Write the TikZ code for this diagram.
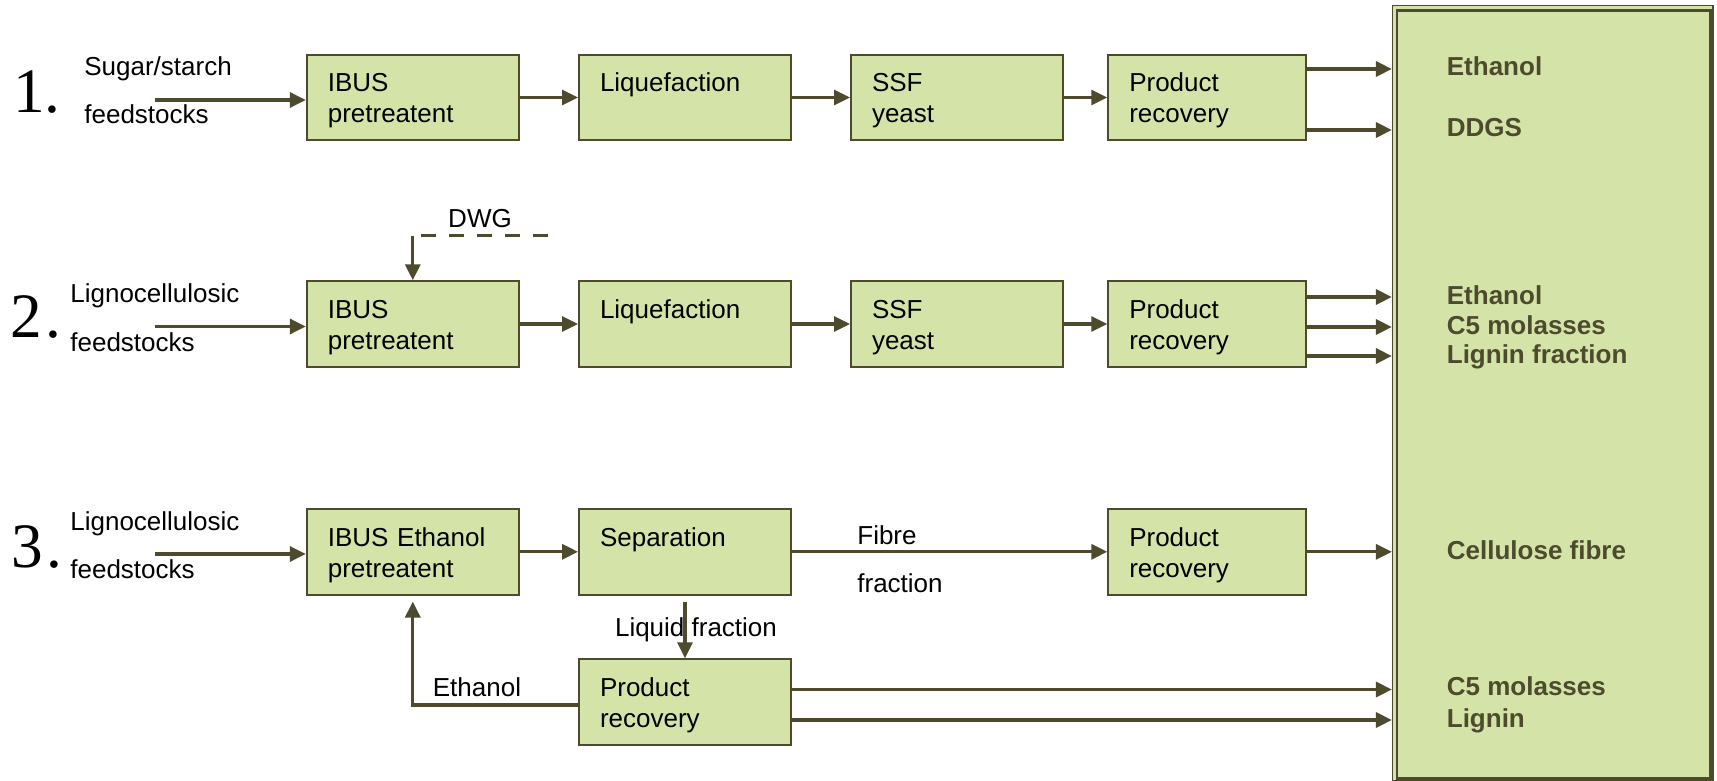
\documentclass[tikz,border=0pt]{standalone}
\usepackage{fontspec}
\setmainfont{Liberation Sans}
\newfontfamily\numfont{Liberation Serif}
\usetikzlibrary{arrows.meta,positioning,calc}
\definecolor{stagefill}{RGB}{212,228,168}
\definecolor{darkline}{RGB}{77,74,46}
\newcommand\boxfont{\fontsize{14.8}{17.6}\selectfont}

\begin{document}
\begin{tikzpicture}[
  font=\boxfont, >={Triangle[length=3.2mm,width=3mm]},
  stage/.style={draw=darkline, line width=1.1pt, fill=stagefill, minimum height=1.71cm,
    inner xsep=0.42cm, inner ysep=0pt, align=left, text width=3.4cm,
    execute at begin node=\rule{0pt}{14.4pt}},
  prbox/.style={stage, text width=3.11cm},
  outbox/.style={draw=darkline, line width=0.7pt, fill=stagefill, minimum width=6.41cm, minimum height=15.5cm},
  res/.style={anchor=west, inner sep=0pt, font=\boxfont\bfseries, text=darkline,
    text height=10.6pt, text depth=0pt},
  txt/.style={anchor=west, inner sep=0pt, text height=10.6pt, text depth=0pt},
  num/.style={anchor=base west, inner sep=0pt, font=\numfont\fontsize{36}{40}\selectfont},
  flow/.style={->, draw=darkline, line width=1.8pt},
]
\useasboundingbox (0,0) rectangle (34.34,-15.62);

% results column
\node[outbox] (big) at (31.055,-7.864) {};
\draw[darkline, line width=1.4pt] ([shift={(0.1,-0.11)}]big.north west) rectangle ([shift={(-0.06,0.06)}]big.south east);
\node[res] (o1a) at (28.93,-1.32) {Ethanol};
\node[res] (o1b) at (28.93,-2.54) {DDGS};
\node[res] (o2a) at (28.93,-5.90) {Ethanol};
\node[res] (o2b) at (28.93,-6.50) {C5 molasses};
\node[res] (o2c) at (28.93,-7.08) {Lignin fraction};
\node[res] (o3) at (28.93,-11.00) {Cellulose fibre};
\node[res] (o4a) at (28.93,-13.73) {C5 molasses};
\node[res] (o4b) at (28.93,-14.36) {Lignin};

% 1. sugar/starch
\node[num] (n1) at (0.26,-2.26) {1.};
\node[txt] (s1a) at (1.68,-1.32) {Sugar/starch};
\node[txt] (s1b) at (1.68,-2.28) {feedstocks};
\node[stage] (ib1) at (8.256,-1.95) {IBUS\\pretreatent};
\node[stage] (lq1) at (13.70,-1.95) {Liquefaction\\\phantom{y}};
\node[stage] (ssf1) at (19.14,-1.95) {SSF\\yeast};
\node[prbox] (pr1) at (24.14,-1.95) {Product\\recovery};
\coordinate (in1) at (3.1,-2.0);
\draw[flow] (in1) -- (in1 -| ib1.west);
\draw[flow] (ib1) -- (lq1);
\draw[flow] (lq1) -- (ssf1);
\draw[flow] (ssf1) -- (pr1);
\draw[flow] ([yshift=-0.6mm]pr1.east |- o1a) -- ([yshift=-0.6mm]big.west |- o1a);
\draw[flow] ([yshift=-0.6mm]pr1.east |- o1b) -- ([yshift=-0.6mm]big.west |- o1b);

% 2. lignocellulosic, DWG
\node[num] (n2) at (0.2,-6.74) {2\kern2pt.};
\node[txt] (s2a) at (1.40,-5.86) {Lignocellulosic};
\node[txt] (s2b) at (1.40,-6.84) {feedstocks};
\node[stage] (ib2) at (8.256,-6.48) {IBUS\\pretreatent};
\node[stage] (lq2) at (13.70,-6.48) {Liquefaction\\\phantom{y}};
\node[stage] (ssf2) at (19.14,-6.48) {SSF\\yeast};
\node[prbox] (pr2) at (24.14,-6.48) {Product\\recovery};
\coordinate (in2) at (3.1,-6.53);
\draw[flow] (in2) -- (in2 -| ib2.west);
\draw[flow] (ib2) -- (lq2);
\draw[flow] (lq2) -- (ssf2);
\draw[flow] (ssf2) -- (pr2);
\draw[flow] ([yshift=-0.4mm]pr2.east |- o2a) -- ([yshift=-0.4mm]big.west |- o2a);
\draw[flow] ([yshift=-0.4mm]pr2.east |- o2b) -- ([yshift=-0.4mm]big.west |- o2b);
\draw[flow] ([yshift=-0.4mm]pr2.east |- o2c) -- ([yshift=-0.4mm]big.west |- o2c);
\node[txt, anchor=center] (dwg) at (9.6,-4.36) {DWG};
\coordinate (dwgsrc) at (10.96,-4.714);
\coordinate (dwgc) at (ib2.north |- dwgsrc);
\draw[darkline, line width=1.8pt, dash pattern=on 0.3cm off 0.26cm] (dwgsrc) -- (dwgc);
\draw[flow] (dwgc) -- (ib2);

% 3. lignocellulosic, ethanol loop
\node[num] (n3) at (0.22,-11.34) {3\kern2pt.};
\node[txt] (s3a) at (1.40,-10.42) {Lignocellulosic};
\node[txt] (s3b) at (1.40,-11.38) {feedstocks};
\node[stage] (ib3) at (8.256,-11.036) {IBUS Ethanol\\pretreatent};
\node[stage] (sep) at (13.70,-11.036) {Separation\\\phantom{y}};
\node[prbox] (pr3) at (24.14,-11.036) {Product\\recovery};
\node[stage] (pr4) at (13.70,-14.04) {Product\\recovery};
\coordinate (in3) at (3.1,-11.08);
\draw[flow] (in3) -- (in3 -| ib3.west);
\draw[flow] (ib3) -- (sep);
\node[txt] (f1) at (17.14,-10.70) {Fibre};
\node[txt] (f2) at (17.14,-11.66) {fraction};
\draw[flow] (sep) -- (pr3);
\draw[flow] (pr3) -- (big.west |- pr3);
\node[txt, anchor=center] (liq) at (13.92,-12.54) {Liquid fraction};
\draw[flow] ([yshift=-1.2mm]sep.south) -- (pr4);
\node[txt, anchor=center] (ethfb) at (9.54,-13.74) {Ethanol};
\draw[flow] ([yshift=-0.6mm]pr4.west) -| ([yshift=-1.2mm]ib3.south);
\draw[flow] ([yshift=-0.6mm]pr4.east |- o4a) -- ([yshift=-0.6mm]big.west |- o4a);
\draw[flow] ([yshift=-0.4mm]pr4.east |- o4b) -- ([yshift=-0.4mm]big.west |- o4b);
\end{tikzpicture}
\end{document}
